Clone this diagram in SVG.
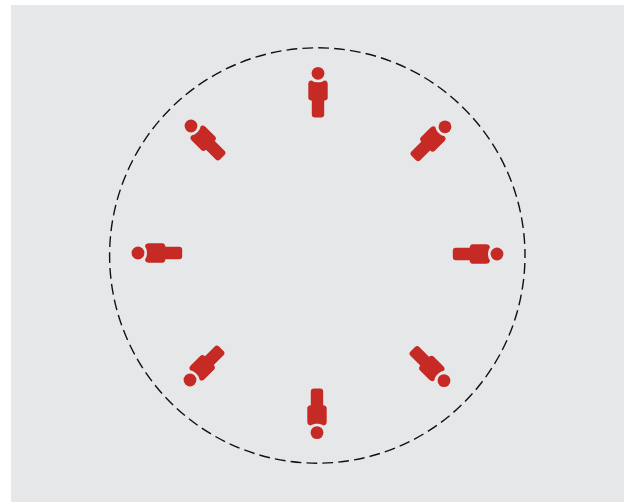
<svg xmlns="http://www.w3.org/2000/svg" width="624" height="502" viewBox="0 0 624 502">
<style>.p{fill:#c62a25}.r{fill:none;stroke:#111;stroke-width:1.4;stroke-dasharray:10.8 5.13;stroke-dashoffset:-7.6}</style>
<defs><g id="person"><circle class="p" cx="0" cy="0" r="6.4"/><path class="p" d="M-6.3 7.1C-3.5 9.6 3.5 9.6 6.3 7.1C8.8 7 9.7 8.6 9.7 11V24.5C9.7 26.2 8.4 27.2 6.2 27.4V41.2C6.2 43.2 5 44.2 3.2 44.2H-3.2C-5 44.2-6.2 43.2-6.2 41.2V27.4C-8.4 27.2-9.7 26.2-9.7 24.5V11C-9.7 8.6-8.8 7-6.3 7.1Z"/></g></defs>
<rect x="0" y="0" width="624" height="502" fill="#fff"/>
<rect x="11" y="5" width="613" height="497" fill="#e6e7e9"/>
<g id="connectors"><circle class="r" cx="317.3" cy="255.5" r="207.7"/></g>
<g id="person-n"><use href="#person" transform="translate(318 73.3)"/></g>
<g id="person-ne"><use href="#person" transform="translate(445 126.8) rotate(45)"/></g>
<g id="person-e"><use href="#person" transform="translate(497 254) rotate(90)"/></g>
<g id="person-se"><use href="#person" transform="translate(444 380.6) rotate(135)"/></g>
<g id="person-s"><use href="#person" transform="translate(317 432.6) rotate(180)"/></g>
<g id="person-sw"><use href="#person" transform="translate(190 380) rotate(225)"/></g>
<g id="person-w"><use href="#person" transform="translate(138 253) rotate(270)"/></g>
<g id="person-nw"><use href="#person" transform="translate(191 126) rotate(315)"/></g>
</svg>
